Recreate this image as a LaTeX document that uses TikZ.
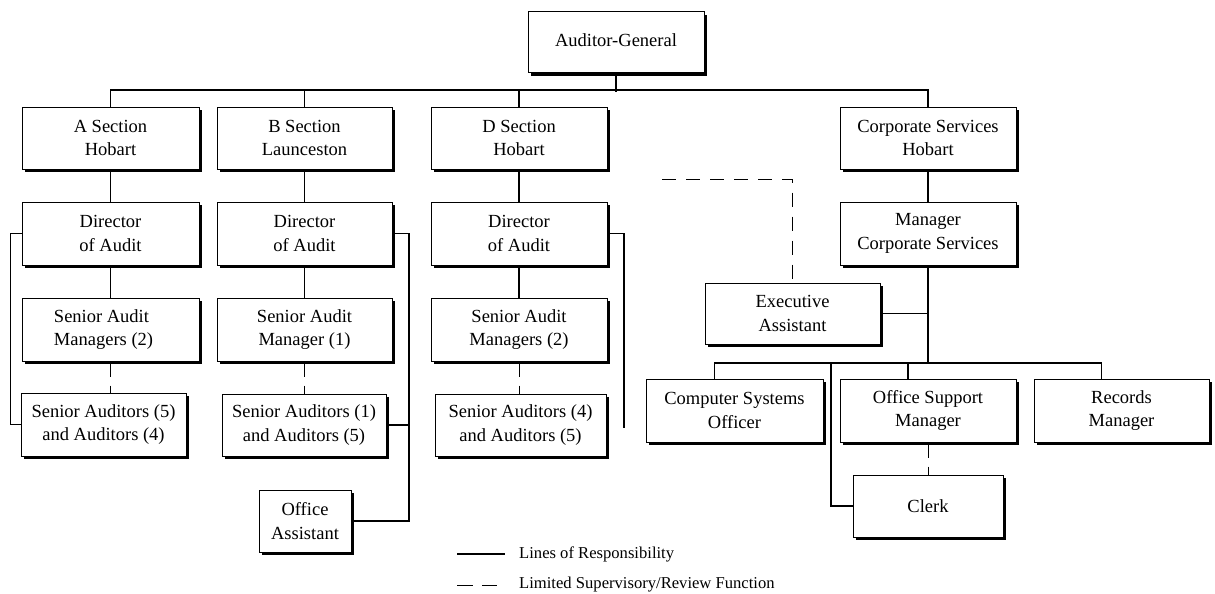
\documentclass[tikz,border=0pt]{standalone}
\usepackage{fontspec}
\setmainfont{Liberation Serif}
\usetikzlibrary{shadows}
\begin{document}
\begin{tikzpicture}[x=1pt,y=-1pt,
  box/.style={draw=black, line width=1pt, fill=white, align=center, inner sep=0pt,
    font=\fontsize{18.5}{23.3}\selectfont,
    drop shadow={shadow xshift=3pt, shadow yshift=-3pt, fill=black, opacity=1}},
  conn/.style={line width=1.4pt},
  limline/.style={line width=0.9pt, dash pattern=on 15pt off 9pt},
  legtext/.style={anchor=west, font=\fontsize{16.6}{20}\selectfont, inner sep=0pt}]
\useasboundingbox (0,0) rectangle (1215,594);

% nodes
\node[box, minimum width=176pt, minimum height=61pt] (ag) at (616,42.5) {\raisebox{4pt}{Auditor-General}};

\node[box, minimum width=177pt, minimum height=62pt] (asec) at (110.5,138) {A Section\\Hobart};
\node[box, minimum width=175pt, minimum height=62pt] (bsec) at (304.5,138) {B Section\\Launceston};
\node[box, minimum width=176pt, minimum height=62pt] (dsec) at (519,138) {D Section\\Hobart};
\node[box, minimum width=176pt, minimum height=62pt] (csec) at (928,138) {Corporate Services\\Hobart};

\node[box, minimum width=177pt, minimum height=63pt] (adir) at (110.5,233.5) {Director\\of Audit};
\node[box, minimum width=175pt, minimum height=63pt] (bdir) at (304.5,233.5) {Director\\of Audit};
\node[box, minimum width=176pt, minimum height=63pt] (ddir) at (519,233.5) {Director\\of Audit};
\node[box, minimum width=176pt, minimum height=63pt] (mcs) at (928,233.5) {Manager\\Corporate Services};

\node[box, minimum width=177pt, minimum height=63pt] (asam) at (110.5,329.5) {Senior Audit\hspace*{18pt}\\Managers (2)\hspace*{14pt}};
\node[box, minimum width=175pt, minimum height=63pt] (bsam) at (304.5,329.5) {Senior Audit\\Manager (1)};
\node[box, minimum width=176pt, minimum height=63pt] (dsam) at (519,329.5) {Senior Audit\\Managers (2)};

\node[box, minimum width=165pt, minimum height=63pt] (asa) at (103.5,424.5) {Senior Auditors (5)\\and Auditors (4)};
\node[box, minimum width=164pt, minimum height=62pt] (bsa) at (304,425) {Senior Auditors (1)\\and Auditors (5)};
\node[box, minimum width=171pt, minimum height=62pt] (dsa) at (520.5,425) {Senior Auditors (4)\\and Auditors (5)};

\node[box, minimum width=92pt, minimum height=62pt] (oa) at (305,521) {Office\\Assistant};

\node[box, minimum width=175pt, minimum height=61pt] (ea) at (792.5,313.5) {Executive\\Assistant};

\node[box, minimum width=177pt, minimum height=63pt] (cso) at (734.5,410.5) {Computer Systems\\Officer};
\node[box, minimum width=176pt, minimum height=63pt] (osm) at (928,410.5) {Office Support\\Manager};
\node[box, minimum width=175pt, minimum height=63pt] (rm) at (1121.5,410.5) {Records\\Manager};
\node[box, minimum width=150pt, minimum height=62pt] (clerk) at (928,506) {Clerk};

% top bus
\coordinate (bus) at (616,90);
\draw[conn] (ag.south) -- ([yshift=-2pt]bus);
\draw[conn] (asec.north) |- (bus) -| (csec.north);
\draw[conn] (bsec.north) -- (bsec.north |- bus);
\draw[conn] (dsec.north) -- (dsec.north |- bus);

% section columns
\draw[conn] (asec.south) -- (adir.north);
\draw[conn] (bsec.south) -- (bdir.north);
\draw[conn] (dsec.south) -- (ddir.north);
\draw[conn] (csec.south) -- (mcs.north);
\draw[conn] (adir.south) -- (asam.north);
\draw[conn] (bdir.south) -- (bsam.north);
\draw[conn] (ddir.south) -- (dsam.north);

% limited supervision
\draw[limline] (asam.south) -- (asam.south |- asa.north);
\draw[limline] (bsam.south) -- (bsam.south |- bsa.north);
\draw[limline] (dsam.south) -- (dsam.south |- dsa.north);
\draw[limline] (osm.south) -- (clerk.north);
\coordinate (ds) at (662,179);
\draw[limline, dash pattern=on 14pt off 10pt] (ds) -| (ea.north);

% brackets
\draw[conn] (adir.west) -- ++(-11,0) |- (asa.west);
\coordinate (bt) at (409,233.5);
\draw[conn] (bdir.east) -- (bt) |- (oa.east);
\draw[conn] (bsa.east) -- (bsa.east -| bt);
\coordinate (dt) at (624,428);
\draw[conn] (ddir.east) -| (dt);

% corporate services
\coordinate (cb) at (928,363);
\draw[conn] (mcs.south) -- (cb);
\draw[conn] (ea.east) -- (ea.east -| cb);
\draw[conn] ([xshift=-20pt]cso.north) |- (cb) -| ([xshift=-20pt]rm.north);
\draw[conn] ([xshift=-20pt]osm.north) -- ([xshift=-20pt]osm.north |- cb);
\coordinate (kb) at (831,363);
\draw[conn] (kb) |- (clerk.west);

% legend
\coordinate (la) at (457,554);
\coordinate (lb) at (505,554);
\draw[conn] (la) -- (lb);
\node[legtext] (lt1) at (519,554) {Lines of Responsibility};
\coordinate (lc) at (457,585);
\coordinate (ld) at (497,585);
\draw[line width=1pt, dash pattern=on 16pt off 9pt] (lc) -- (ld);
\node[legtext] (lt2) at (519,585) {Limited Supervisory/Review Function};
\end{tikzpicture}
\end{document}
